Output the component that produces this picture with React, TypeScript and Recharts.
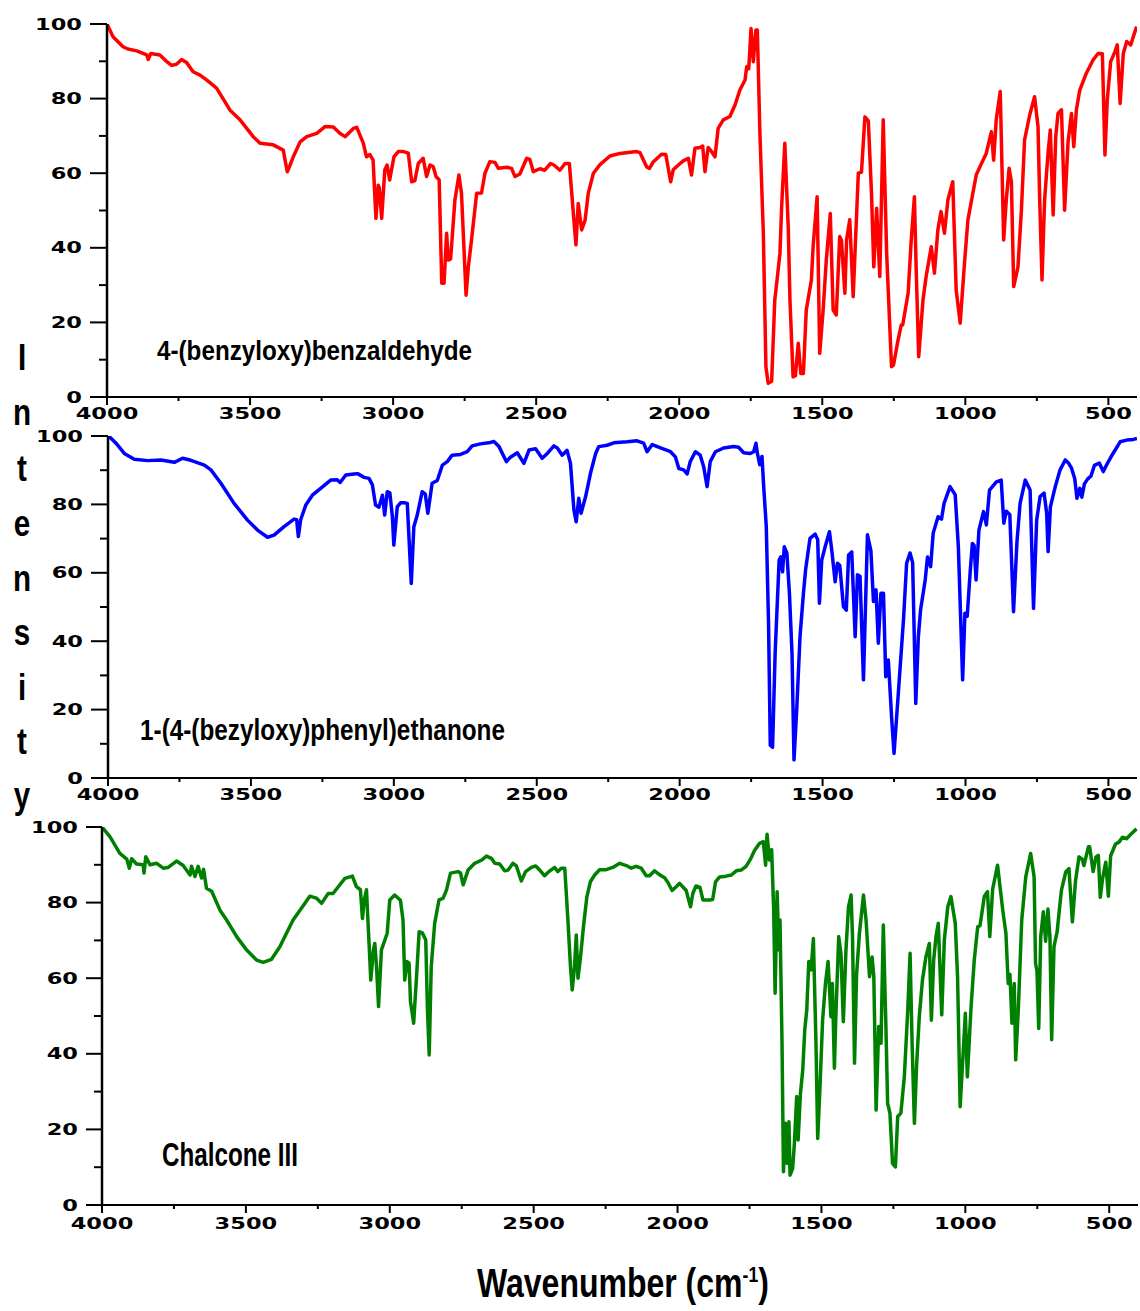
import React from "react";
import { LineChart, Line, XAxis, YAxis } from "recharts";

// wavenumber (cm-1) / intensity pairs
const aldehyde: [number, number][] = [
  [4000, 100], [3979, 96.6], [3944, 93.9], [3927, 93.3], [3896, 92.8], [3861, 91.7], [3856, 90.5], [3847, 92.1],
  [3815, 91.7], [3791, 89.9], [3774, 88.9], [3757, 89.2], [3739, 90.5], [3722, 89.7], [3699, 87.2], [3675, 86.3],
  [3652, 85.0], [3617, 82.8], [3570, 76.9], [3535, 74.3], [3489, 69.8], [3465, 68.0], [3419, 67.6], [3384, 66.2],
  [3370, 60.4], [3361, 62], [3349, 64.4], [3325, 68.4], [3302, 69.8], [3267, 70.7], [3238, 72.5], [3209, 72.4],
  [3186, 70.7], [3168, 69.8], [3139, 72.0], [3127, 72.3], [3104, 68.0], [3093, 64.4], [3081, 65], [3070, 63.5],
  [3060, 47.9], [3052, 56.8], [3048, 56], [3040, 47.9], [3029, 60.9], [3021, 62.2], [3012, 58.2], [2997, 64.4],
  [2982, 65.8], [2964, 65.8], [2947, 65.4], [2935, 57.7], [2924, 58], [2912, 62.6], [2895, 64.0], [2883, 59.1],
  [2871, 62.2], [2860, 61.8], [2850, 59.1], [2839, 58.2], [2830, 30.5], [2822, 30.5], [2813, 43.9], [2807, 36.7],
  [2799, 37], [2784, 52.8], [2770, 59.5], [2761, 54.6], [2745, 27.3], [2737, 34.9], [2726, 42.1], [2708, 54.6],
  [2691, 54.7], [2679, 60], [2662, 63.1], [2644, 62.9], [2632, 61.3], [2603, 61.6], [2586, 61.3], [2574, 59.1],
  [2557, 59.8], [2533, 64.0], [2522, 63.7], [2510, 60.4], [2487, 61.2], [2470, 60.8], [2450, 62.6], [2438, 62.2],
  [2417, 60.8], [2399, 62.6], [2384, 62.6], [2370, 49.2], [2361, 40.8], [2353, 51.9], [2341, 44.8], [2329, 47.4],
  [2318, 54.6], [2300, 60], [2277, 62.3], [2242, 64.6], [2207, 65.3], [2149, 65.8], [2137, 65.5], [2114, 61.7],
  [2104, 61.3], [2091, 63], [2062, 65.1], [2047, 65], [2030, 57.7], [2021, 60.9], [2003, 62.2], [1986, 63.3],
  [1968, 64], [1957, 59.5], [1945, 66.7], [1928, 66.9], [1918, 67.3], [1910, 60.4], [1899, 66.9], [1887, 65.8],
  [1875, 64.4], [1864, 72], [1846, 74.3], [1823, 75.2], [1805, 78.3], [1788, 82.3], [1770, 85], [1764, 88.6],
  [1757, 88], [1749, 98.8], [1741, 89.9], [1732, 98.4], [1727, 98.4], [1718, 70.7], [1706, 43.9], [1697, 8.1],
  [1689, 3.7], [1677, 4.2], [1666, 26], [1658, 31.4], [1648, 38.5], [1642, 51], [1631, 68], [1619, 45.6],
  [1613, 26], [1602, 5.4], [1594, 5.7], [1584, 14.4], [1575, 6.3], [1566, 6.3], [1556, 23.3], [1538, 31.4],
  [1532, 40.3], [1518, 53.7], [1509, 11.7], [1497, 23.3], [1486, 36.7], [1472, 49.2], [1462, 23.3], [1451, 22],
  [1439, 43], [1433, 42], [1421, 27.8], [1415, 42.1], [1404, 47.5], [1392, 26.9], [1386, 38], [1374, 60],
  [1363, 60.3], [1351, 75.1], [1339, 74], [1328, 54.6], [1320, 34.9], [1310, 50.6], [1299, 32.3], [1287, 74.3],
  [1275, 38.5], [1258, 8.1], [1251, 8.6], [1235, 15.3], [1224, 19.3], [1219, 19.3], [1200, 27.8], [1189, 42.1],
  [1178, 53.7], [1172, 34.9], [1163, 10.8], [1148, 26], [1137, 32.3], [1119, 40.3], [1108, 33.2], [1096, 44.8],
  [1085, 49.7], [1073, 43.9], [1061, 52.8], [1044, 57.7], [1032, 28.7], [1018, 19.8], [1003, 35.8], [991, 47.5],
  [976, 53.7], [962, 59.5], [948, 61.9], [927, 65.3], [909, 71.1], [901, 63.5], [892, 74.3], [878, 81.9],
  [866, 42.1], [857, 52.8], [847, 61.3], [839, 57.7], [831, 29.6], [816, 34.9], [804, 50.1], [793, 68.9],
  [775, 75.6], [758, 80.5], [746, 72.5], [740, 52.8], [732, 31.4], [723, 52.8], [711, 65.3], [703, 71.6],
  [693, 48.8], [684, 69.8], [676, 76], [664, 77], [653, 50.1], [641, 68.4], [629, 76], [621, 67.1],
  [612, 76.9], [600, 82.3], [577, 86.8], [554, 90.3], [536, 92.1], [521, 92], [512, 64.9], [504, 79.6],
  [492, 89.9], [477, 92.6], [469, 94.4], [459, 78.7], [448, 92], [436, 95.3], [422, 94.4], [413, 96.6],
  [401, 99.3],
];

const ketone: [number, number][] = [
  [4000, 100], [3995, 99.8], [3972, 97.9], [3943, 94.9], [3908, 93.2], [3861, 92.8], [3815, 93], [3768, 92.3],
  [3739, 93.5], [3710, 92.9], [3663, 91.5], [3640, 90.1], [3605, 86.2], [3559, 80.3], [3512, 75.4], [3477, 72.5],
  [3442, 70.4], [3419, 71], [3384, 73.5], [3349, 75.7], [3340, 75.5], [3334, 70.6], [3326, 75.5], [3308, 79.8],
  [3285, 82.7], [3256, 84.7], [3221, 87.1], [3198, 87.2], [3188, 86.4], [3168, 88.6], [3139, 88.9], [3127, 89],
  [3104, 87.9], [3087, 87.6], [3075, 85.7], [3064, 79.8], [3052, 79.2], [3040, 82.7], [3032, 76.9], [3023, 83.7],
  [3014, 83.4], [3005, 76.4], [3000, 68.1], [2988, 79.3], [2976, 80.5], [2964, 80.5], [2953, 80.3], [2939, 56.9],
  [2930, 73.5], [2918, 76.9], [2901, 83.7], [2890, 83], [2881, 77.4], [2866, 86.2], [2848, 87], [2830, 91.5],
  [2813, 92.5], [2796, 94.4], [2767, 94.6], [2743, 95.4], [2726, 97.1], [2697, 97.7], [2668, 98], [2650, 98.4],
  [2632, 96.9], [2606, 92.5], [2592, 93.8], [2568, 95.1], [2545, 92], [2527, 95.9], [2504, 96.3], [2481, 93.5],
  [2463, 94.9], [2440, 97.1], [2428, 96.5], [2411, 94.4], [2394, 95.8], [2382, 92], [2370, 78.4], [2362, 74.9],
  [2353, 81.8], [2345, 77.4], [2329, 82.3], [2312, 89.1], [2294, 94.9], [2283, 96.9], [2254, 97.3], [2230, 98],
  [2184, 98.3], [2149, 98.6], [2126, 97.9], [2114, 95.4], [2096, 97.5], [2067, 96.5], [2032, 95.4], [2015, 93.9],
  [2003, 90.5], [1986, 90.1], [1974, 88.9], [1963, 92.5], [1945, 95.4], [1928, 94.4], [1916, 91], [1904, 85.2],
  [1893, 92.5], [1875, 95.4], [1846, 96.5], [1811, 96.9], [1794, 96.7], [1776, 95.1], [1753, 94.9], [1741, 95.4],
  [1733, 97.9], [1728, 94.9], [1720, 91.6], [1712, 94], [1706, 85.2], [1697, 73.5], [1689, 45], [1683, 9.6],
  [1675, 9.0], [1666, 36.5], [1658, 52], [1652, 63.7], [1646, 64.7], [1640, 60.3], [1634, 67.6], [1625, 65.8],
  [1616, 54], [1607, 36.5], [1600, 5.3], [1590, 20.8], [1579, 41.3], [1567, 54], [1559, 61.2], [1544, 70.1],
  [1526, 71.3], [1517, 69.7], [1511, 51.1], [1503, 63.7], [1491, 67.6], [1476, 72], [1468, 66.7], [1456, 57.4],
  [1448, 62.8], [1440, 62.2], [1427, 50.1], [1417, 49.1], [1409, 65.2], [1398, 66.1], [1386, 41.3], [1378, 59.4],
  [1369, 59], [1357, 28.7], [1343, 71.1], [1331, 66.5], [1322, 51.6], [1313, 55], [1305, 39.4], [1296, 54],
  [1287, 54], [1279, 29.6], [1270, 34.5], [1258, 17], [1250, 7.2], [1235, 24.8], [1217, 46.2], [1206, 62.8],
  [1194, 65.8], [1185, 63], [1174, 21.8], [1165, 41.3], [1157, 49.3], [1141, 57.9], [1133, 64.6], [1122, 61.8],
  [1113, 71.6], [1096, 76.4], [1084, 75.7], [1075, 80.3], [1054, 85.2], [1036, 82.8], [1025, 67.6], [1010, 28.7],
  [1002, 48.2], [994, 47.3], [984, 59.8], [976, 68.6], [970, 68], [963, 57.9], [953, 72.5], [937, 77.9],
  [927, 74], [916, 84.2], [892, 86.6], [875, 87.1], [866, 74.5], [857, 78], [845, 77], [832, 48.6],
  [820, 69], [809, 80.3], [791, 87.1], [774, 84.2], [762, 49.6], [751, 75.4], [739, 82.3], [725, 83.3],
  [716, 77.4], [711, 66.2], [703, 79.3], [686, 85.2], [669, 90.1], [651, 93], [639, 92], [629, 90.6],
  [618, 87.6], [610, 81.8], [600, 84.7], [593, 82.1], [584, 86], [573, 87.4], [561, 88.3], [549, 91.4],
  [532, 92.1], [518, 89.6], [503, 92.1], [486, 94.6], [459, 98.3], [436, 98.8], [413, 99], [400, 99.3],
];

const chalcone: [number, number][] = [
  [4000, 100], [3972, 97.4], [3938, 93], [3914, 91.5], [3905, 89.1], [3897, 91.6], [3880, 90.2], [3857, 90],
  [3854, 87.8], [3848, 92.1], [3833, 90], [3810, 90.4], [3787, 89.1], [3770, 89.3], [3741, 91], [3718, 89.8],
  [3694, 87.3], [3689, 89.6], [3677, 86.9], [3666, 89.6], [3654, 86.5], [3647, 88.8], [3637, 83.8], [3619, 83],
  [3590, 78], [3567, 75.4], [3532, 71], [3498, 67.5], [3463, 64.8], [3440, 64.2], [3411, 65], [3382, 68.3],
  [3359, 71.9], [3336, 75.4], [3307, 78.5], [3278, 81.7], [3255, 81.2], [3237, 79.8], [3214, 82.4], [3197, 82.4],
  [3179, 84.2], [3156, 86.4], [3130, 87], [3116, 84.2], [3102, 83.4], [3095, 75.8], [3089, 80.6], [3081, 83.4],
  [3072, 69.2], [3066, 59.5], [3057, 67.4], [3052, 69.2], [3046, 63], [3039, 52.5], [3029, 67.5], [3017, 70.1],
  [3009, 71.9], [3000, 80.7], [2983, 82], [2963, 80.6], [2954, 75.4], [2948, 59.5], [2940, 64.4], [2933, 64],
  [2928, 53.8], [2917, 48.1], [2907, 60.4], [2898, 72.3], [2887, 72], [2875, 70.1], [2869, 51.6], [2863, 39.7],
  [2856, 63], [2844, 74.5], [2829, 80.7], [2815, 81.1], [2803, 83.3], [2789, 87.8], [2763, 88.2], [2754, 87.8],
  [2745, 84.7], [2728, 88.6], [2705, 90.4], [2682, 91.2], [2664, 92.3], [2647, 91.7], [2635, 90.4], [2618, 90.2],
  [2601, 88.4], [2589, 88.6], [2572, 90.4], [2560, 89.7], [2543, 85.7], [2528, 88.2], [2508, 89.3], [2493, 89.7],
  [2479, 88.6], [2462, 87.1], [2444, 88.4], [2427, 89.3], [2416, 88.2], [2404, 89.1], [2392, 89.1], [2381, 75.4],
  [2372, 63], [2366, 56.9], [2358, 63], [2352, 71.4], [2346, 60], [2338, 65], [2327, 73.6], [2315, 81.6],
  [2303, 85.5], [2288, 87.3], [2271, 88.7], [2248, 88.7], [2225, 89.3], [2201, 90.4], [2178, 89.8], [2161, 89.1],
  [2144, 89.6], [2126, 89.1], [2109, 87.1], [2097, 87.1], [2080, 88.4], [2063, 87.4], [2045, 86.6], [2034, 85.4],
  [2019, 83.2], [2005, 84.2], [1993, 85.1], [1982, 84.2], [1970, 83.2], [1965, 81.7], [1955, 78.9], [1947, 82.4],
  [1936, 84.4], [1922, 84], [1912, 80.7], [1889, 80.7], [1878, 80.8], [1868, 85.5], [1854, 86.8], [1831, 87],
  [1813, 87.3], [1796, 88.4], [1779, 88.6], [1762, 89.6], [1748, 91.3], [1733, 93.7], [1715, 95.7], [1702, 96.1],
  [1694, 89.9], [1689, 98.1], [1681, 91.3], [1673, 94], [1666, 78], [1661, 56], [1654, 82.9], [1648, 67.5],
  [1644, 75.4], [1637, 42.8], [1632, 8.8], [1625, 21.6], [1619, 11], [1613, 22], [1609, 7.9], [1600, 9.7],
  [1594, 16.3], [1586, 28.7], [1581, 17.2], [1573, 29.5], [1565, 35.7], [1558, 46.3], [1551, 51.6], [1544, 64.4],
  [1536, 62.2], [1528, 70.5], [1519, 42.8], [1513, 17.6], [1505, 31.3], [1496, 48.9], [1486, 58.6], [1477, 64.4],
  [1467, 49.8], [1462, 58.6], [1455, 36.2], [1450, 49.8], [1440, 71], [1432, 66.3], [1424, 48.5], [1415, 67.2],
  [1406, 78.9], [1397, 82], [1392, 70.9], [1385, 37.5], [1378, 60.8], [1368, 71.9], [1354, 82], [1345, 75.4],
  [1333, 60.4], [1324, 65.6], [1318, 60.4], [1310, 25.1], [1301, 47.2], [1293, 42.8], [1285, 74.1], [1276, 47.2],
  [1270, 26.9], [1262, 24.3], [1253, 11], [1243, 10.1], [1235, 23.4], [1224, 24.3], [1212, 33.9], [1200, 51.6],
  [1192, 66.6], [1185, 42.8], [1177, 21.6], [1169, 37.5], [1160, 49.8], [1149, 59.5], [1137, 65.6], [1125, 69.2],
  [1118, 48.9], [1110, 64.8], [1102, 71], [1094, 74.5], [1082, 50.3], [1073, 70.1], [1061, 78.9], [1050, 81.6],
  [1035, 74.5], [1027, 60.4], [1018, 26], [1007, 41], [1000, 50.7], [993, 33.9], [980, 52.5], [969, 64.8],
  [957, 73.6], [949, 73.9], [934, 81.6], [923, 82.9], [915, 71], [905, 83.6], [888, 89.9], [870, 78],
  [859, 71.9], [851, 58.6], [845, 61], [838, 48.1], [830, 58.6], [825, 38.4], [816, 51.6], [804, 75.4],
  [790, 86.8], [773, 93], [761, 86.8], [756, 63.9], [751, 61.9], [745, 46.7], [738, 71], [729, 77.6],
  [721, 69.8], [713, 78.3], [706, 70.9], [700, 43.7], [692, 68.3], [681, 72.3], [672, 79], [666, 83.3],
  [651, 88.1], [640, 89], [628, 74.9], [617, 85.8], [605, 92.1], [593, 91.4], [588, 89.8], [572, 94.8],
  [568, 94.8], [556, 88.2], [546, 92.1], [538, 92.5], [531, 81.4], [523, 86.4], [512, 90.7], [503, 81.7],
  [495, 92.4], [478, 95.5], [466, 96], [454, 97.3], [440, 96.9], [425, 98.1], [405, 99.5],
];

const xTicks = [4000, 3750, 3500, 3250, 3000, 2750, 2500, 2250, 2000, 1750, 1500, 1250, 1000, 750, 500];
const xLabeled = [4000, 3500, 3000, 2500, 2000, 1500, 1000, 500];
const yTicks = [0, 10, 20, 30, 40, 50, 60, 70, 80, 90, 100];
const yLabeled = [0, 20, 40, 60, 80, 100];
const topTicks = [1, 2, 3, 4, 5, 6, 7, 8, 9];
const rightTicks = [10, 20, 30, 40, 50, 60, 70, 80, 90];

const DIGIT_FONT = "'DejaVu Sans', Verdana, sans-serif";
const NARROW_FONT = "'Liberation Sans Narrow', 'Liberation Sans', Arial, sans-serif";
const TITLE_FONT = "'Liberation Sans', Arial, sans-serif";

const Digits = ({ x, y, anchor, children }: any) => (
  <text
    transform={`translate(${x},${y}) scale(1.5,1)`}
    textAnchor={anchor}
    fontFamily={DIGIT_FONT}
    fontWeight="bold"
    fontSize={15}
    fill="#000"
  >
    {children}
  </text>
);

const makeBottomTick = (labelDy: number) => (props: any) => {
  const { x, y, payload } = props;
  const major = xLabeled.includes(payload.value);
  return (
    <g>
      <line x1={x} x2={x} y1={y} y2={y + (major ? 8 : 4)} stroke="#000" strokeWidth={2} />
      {major && (
        <Digits x={x} y={y + labelDy} anchor="middle">
          {payload.value}
        </Digits>
      )}
    </g>
  );
};

const makeLeftTick = (long: number, gap: number) => (props: any) => {
  const { x, y, payload } = props;
  const major = yLabeled.includes(payload.value);
  return (
    <g>
      <line x1={x - (major ? long : 8)} x2={x} y1={y} y2={y} stroke="#000" strokeWidth={2} />
      {major && (
        <Digits x={x - gap} y={y + 5.5} anchor="end">
          {payload.value}
        </Digits>
      )}
    </g>
  );
};

const TopTick = (props: any) => {
  const { x, y, payload } = props;
  const len = payload.value % 2 === 0 ? 8 : 5;
  return <line x1={x} x2={x} y1={y} y2={y + len} stroke="#000" strokeWidth={2} />;
};

const RightTick = (props: any) => {
  const { x, y } = props;
  return <line x1={x - 10} x2={x} y1={y} y2={y} stroke="#000" strokeWidth={2} />;
};

type PanelProps = {
  data: [number, number][];
  color: string;
  top: number;
  height: number;
  margin: { top: number; right: number; bottom: number; left: number };
  tickLong: number;
  labelGap: number;
  labelDy: number;
};

const Panel = ({ data, color, top, height, margin, tickLong, labelGap, labelDy }: PanelProps) => {
  const rows = data.map(([wn, t]) => ({ wn, t }));
  return (
    <div style={{ position: "absolute", left: 0, top }}>
      <LineChart width={1140} height={height} data={rows} margin={margin}>
        <XAxis
          dataKey="wn"
          type="number"
          domain={[400, 4000]}
          reversed
          allowDataOverflow
          ticks={xTicks}
          interval={0}
          height={30}
          tickSize={0}
          tickMargin={0}
          tickLine={false}
          axisLine={{ stroke: "#000", strokeWidth: 2 }}
          tick={makeBottomTick(labelDy)}
        />
        <XAxis
          xAxisId="top"
          orientation="top"
          type="number"
          domain={[0, 10]}
          allowDataOverflow
          ticks={topTicks}
          interval={0}
          height={0}
          tickSize={0}
          tickMargin={0}
          tickLine={false}
          axisLine={{ stroke: "#000", strokeWidth: 1.5 }}
          tick={TopTick}
        />
        <YAxis
          type="number"
          domain={[0, 100]}
          allowDataOverflow
          ticks={yTicks}
          interval={0}
          width={60}
          tickSize={0}
          tickMargin={0}
          tickLine={false}
          axisLine={{ stroke: "#000", strokeWidth: 2.5 }}
          tick={makeLeftTick(tickLong, labelGap)}
        />
        <YAxis
          yAxisId="right"
          orientation="right"
          type="number"
          domain={[0, 100]}
          allowDataOverflow
          ticks={rightTicks}
          interval={0}
          width={0}
          tickSize={0}
          tickMargin={0}
          tickLine={false}
          axisLine={{ stroke: "#000", strokeWidth: 2 }}
          tick={RightTick}
        />
        <Line
          type="linear"
          dataKey="t"
          stroke={color}
          strokeWidth={3.5}
          strokeLinejoin="round"
          dot={false}
          isAnimationActive={false}
        />
      </LineChart>
    </div>
  );
};

const intensityBaselines = [370, 425, 481, 536, 591, 645, 700, 754, 808];

const App = () => {
  return (
    <div
      style={{
        position: "absolute",
        left: 0,
        top: 0,
        width: 1140,
        height: 1311,
        background: "#fff",
        overflow: "hidden",
      }}
    >
      <Panel
        data={aldehyde}
        color="#FF0000"
        top={0}
        height={430}
        margin={{ top: 24, right: 3, bottom: 3, left: 47 }}
        tickLong={17}
        labelGap={25}
        labelDy={22}
      />
      <Panel
        data={ketone}
        color="#0000FF"
        top={420}
        height={420}
        margin={{ top: 16, right: 3, bottom: 32, left: 48 }}
        tickLong={17}
        labelGap={25}
        labelDy={22}
      />
      <Panel
        data={chalcone}
        color="#008000"
        top={810}
        height={440}
        margin={{ top: 17, right: 2, bottom: 15, left: 42 }}
        tickLong={16}
        labelGap={24}
        labelDy={24}
      />
      <svg
        width={1140}
        height={1311}
        style={{ position: "absolute", left: 0, top: 0, pointerEvents: "none" }}
      >
        <g fontFamily={NARROW_FONT} fontWeight="bold" fill="#000">
          {"Intensity".split("").map((ch, i) => (
            <text
              key={i}
              transform={`translate(22,${intensityBaselines[i]}) scale(0.8,1)`}
              textAnchor="middle"
              fontSize={37}
            >
              {ch}
            </text>
          ))}
          <text x={157} y={360} fontSize={28} textLength={315} lengthAdjust="spacingAndGlyphs">
            4-(benzyloxy)benzaldehyde
          </text>
          <text x={140} y={740} fontSize={30} textLength={365} lengthAdjust="spacingAndGlyphs">
            1-(4-(bezyloxy)phenyl)ethanone
          </text>
          <text x={162} y={1166} fontSize={33} textLength={136} lengthAdjust="spacingAndGlyphs">
            Chalcone III
          </text>
        </g>
        <text
          transform="translate(477,1297) scale(0.8,1)"
          fontFamily={TITLE_FONT}
          fontWeight="bold"
          fontSize={40}
          fill="#000"
        >
          Wavenumber (cm
          <tspan fontSize={22} dy={-15}>
            -1
          </tspan>
          <tspan dy={15}>)</tspan>
        </text>
      </svg>
    </div>
  );
};

export default App;
